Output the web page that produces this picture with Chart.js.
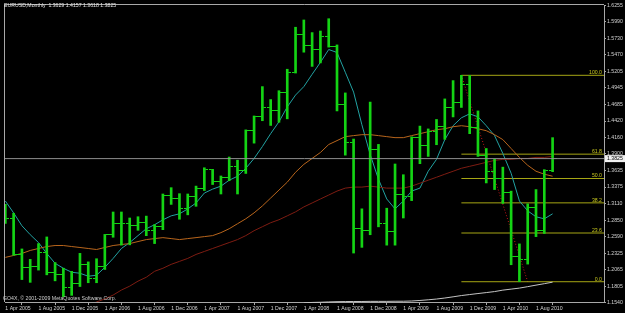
<!DOCTYPE html>
<html>
<head>
<meta charset="utf-8">
<title>EURUSD,Monthly</title>
<script src="https://cdn.jsdelivr.net/npm/chart.js@4.4.1/dist/chart.umd.min.js"></script>
<style>
  html, body { margin: 0; padding: 0; background: #000; }
  #wrap { position: relative; width: 625px; height: 313px; }
</style>
</head>
<body>
<div id="wrap"><canvas id="eurusdChart"></canvas></div>
<script>
const symbol = 'EURUSD,Monthly';
const copyright = 'GO4X, \u00a9 2001-2009 MetaQuotes Software Corp.';

// monthly bars Apr 2005 .. Oct 2010
const months = ('Apr05 May05 Jun05 Jul05 Aug05 Sep05 Oct05 Nov05 Dec05 ' +
  'Jan06 Feb06 Mar06 Apr06 May06 Jun06 Jul06 Aug06 Sep06 Oct06 Nov06 Dec06 ' +
  'Jan07 Feb07 Mar07 Apr07 May07 Jun07 Jul07 Aug07 Sep07 Oct07 Nov07 Dec07 ' +
  'Jan08 Feb08 Mar08 Apr08 May08 Jun08 Jul08 Aug08 Sep08 Oct08 Nov08 Dec08 ' +
  'Jan09 Feb09 Mar09 Apr09 May09 Jun09 Jul09 Aug09 Sep09 Oct09 Nov09 Dec09 ' +
  'Jan10 Feb10 Mar10 Apr10 May10 Jun10 Jul10 Aug10 Sep10 Oct10').split(' ');

const open = [1.2960, 1.2870, 1.2300, 1.2100, 1.2120, 1.2340, 1.2025, 1.1990, 1.1790,
  1.1840, 1.2155, 1.1925, 1.2115, 1.2620, 1.2800, 1.2790, 1.2760, 1.2815, 1.2680, 1.2755, 1.3240,
  1.3200, 1.3030, 1.3230, 1.3355, 1.3650, 1.3455, 1.3530, 1.3695, 1.3635, 1.4265, 1.4485, 1.4630,
  1.4590, 1.4865, 1.5185, 1.5785, 1.5610, 1.5550, 1.5755, 1.5605, 1.4675, 1.4085, 1.2720, 1.2690,
  1.3970, 1.2800, 1.2670, 1.3250, 1.3230, 1.4155, 1.4030, 1.4255, 1.4335, 1.4640, 1.4710, 1.5000,
  1.4320, 1.3870, 1.3625, 1.3510, 1.3290, 1.2270, 1.2230, 1.3050, 1.2680, 1.3629];
const high = [1.3100, 1.2960, 1.2395, 1.2230, 1.2480, 1.2585, 1.2180, 1.2090, 1.2040,
  1.2325, 1.2190, 1.2240, 1.2625, 1.2980, 1.2980, 1.2885, 1.2905, 1.2915, 1.2780, 1.3265, 1.3365,
  1.3270, 1.3265, 1.3390, 1.3680, 1.3655, 1.3550, 1.3850, 1.3800, 1.4280, 1.4500, 1.4965, 1.4760,
  1.4900, 1.5240, 1.5905, 1.6020, 1.5820, 1.5845, 1.6040, 1.5625, 1.4865, 1.4135, 1.3030, 1.4720,
  1.4050, 1.3040, 1.3740, 1.3570, 1.4170, 1.4340, 1.4295, 1.4445, 1.4770, 1.5060, 1.5144, 1.5140,
  1.4580, 1.3985, 1.3815, 1.3690, 1.3310, 1.2475, 1.3110, 1.3335, 1.3650, 1.4157];
const low = [1.2800, 1.2295, 1.1910, 1.1866, 1.2060, 1.1985, 1.1890, 1.1640, 1.1660,
  1.1800, 1.1860, 1.1860, 1.2070, 1.2580, 1.2455, 1.2460, 1.2690, 1.2605, 1.2480, 1.2700, 1.3100,
  1.2865, 1.2935, 1.3070, 1.3320, 1.3415, 1.3265, 1.3475, 1.3265, 1.3590, 1.4070, 1.4425, 1.4350,
  1.4400, 1.4455, 1.5180, 1.5510, 1.5285, 1.5340, 1.5590, 1.4580, 1.3880, 1.2330, 1.2420, 1.2620,
  1.2745, 1.2455, 1.2455, 1.2885, 1.3160, 1.3745, 1.3860, 1.4045, 1.4130, 1.4485, 1.4635, 1.4220,
  1.3860, 1.3440, 1.3335, 1.3115, 1.2145, 1.1876, 1.2155, 1.2590, 1.2640, 1.3618];
const close = [1.2870, 1.2300, 1.2100, 1.2120, 1.2340, 1.2025, 1.1990, 1.1790, 1.1840,
  1.2155, 1.1925, 1.2115, 1.2620, 1.2800, 1.2790, 1.2760, 1.2815, 1.2680, 1.2755, 1.3240, 1.3200,
  1.3030, 1.3230, 1.3355, 1.3650, 1.3455, 1.3530, 1.3695, 1.3635, 1.4265, 1.4485, 1.4630, 1.4590,
  1.4865, 1.5185, 1.5785, 1.5610, 1.5550, 1.5755, 1.5605, 1.4675, 1.4085, 1.2720, 1.2690, 1.3970,
  1.2800, 1.2670, 1.3250, 1.3230, 1.4155, 1.4030, 1.4255, 1.4335, 1.4640, 1.4710, 1.5000, 1.4320,
  1.3870, 1.3625, 1.3510, 1.3290, 1.2270, 1.2230, 1.3050, 1.2680, 1.3629, 1.3825];

// moving averages
const maFast = [1.3154, 1.2966, 1.2762, 1.2621, 1.2496, 1.2324, 1.2167, 1.2089, 1.2026, 1.2010,
  1.1963, 1.1979, 1.2104, 1.2245, 1.2402, 1.2496, 1.2606, 1.2715, 1.2778, 1.2856,
  1.2919, 1.2951, 1.3029, 1.3123, 1.3280, 1.3342, 1.3389, 1.3483, 1.3546, 1.3671,
  1.3828, 1.4016, 1.4220, 1.4408, 1.4643, 1.4831, 1.4965, 1.5160, 1.5349, 1.5552,
  1.5505, 1.5192, 1.4878, 1.4361, 1.3891, 1.3499, 1.3186, 1.3029, 1.3154, 1.3311,
  1.3358, 1.3625, 1.3813, 1.4126, 1.4346, 1.4471, 1.4534, 1.4487, 1.4346, 1.4189,
  1.3907, 1.3593, 1.3154, 1.2998, 1.2904, 1.2872, 1.2951];
const maMid = [1.2261, 1.2292, 1.2324, 1.2371, 1.2402, 1.2433, 1.2449, 1.2449, 1.2433, 1.2418,
  1.2402, 1.2386, 1.2418, 1.2449, 1.2465, 1.2480, 1.2512, 1.2543, 1.2559, 1.2574,
  1.2559, 1.2543, 1.2559, 1.2574, 1.2590, 1.2606, 1.2653, 1.2715, 1.2794, 1.2872,
  1.2966, 1.3076, 1.3201, 1.3327, 1.3452, 1.3609, 1.3734, 1.3828, 1.3922, 1.4048,
  1.4110, 1.4173, 1.4189, 1.4204, 1.4204, 1.4189, 1.4173, 1.4157, 1.4157, 1.4189,
  1.4220, 1.4251, 1.4283, 1.4298, 1.4330, 1.4346, 1.4330, 1.4298, 1.4267, 1.4204,
  1.4126, 1.3985, 1.3844, 1.3719, 1.3625, 1.3578, 1.3546];
const maSlow = [null, null, null, null, null, null, null, null, null, null,
  1.1493, 1.1556, 1.1603, 1.1665, 1.1744, 1.1806, 1.1885, 1.1947, 1.2041, 1.2089,
  1.2151, 1.2198, 1.2245, 1.2308, 1.2355, 1.2402, 1.2449, 1.2496, 1.2543, 1.2606,
  1.2684, 1.2747, 1.2810, 1.2857, 1.2919, 1.2982, 1.3060, 1.3123, 1.3186, 1.3248,
  1.3311, 1.3358, 1.3374, 1.3374, 1.3389, 1.3374, 1.3358, 1.3358, 1.3358, 1.3389,
  1.3436, 1.3483, 1.3530, 1.3578, 1.3625, 1.3672, 1.3703, 1.3734, 1.3766, 1.3797,
  1.3813, 1.3813, 1.3828, 1.3828, 1.3844, 1.3844, 1.3860];
const maLong = [null, null, null, null, null, null, null, null, null, null,
  null, null, null, null, null, null, null, null, null, null,
  null, null, null, null, null, null, null, null, null, null,
  null, null, null, null, null, null, 1.1540, 1.1548, 1.1551, 1.1556,
  1.1560, 1.1562, 1.1563, 1.1563, 1.1565, 1.1565, 1.1565, 1.1567, 1.1567, 1.1571,
  1.1579, 1.1590, 1.1602, 1.1618, 1.1637, 1.1657, 1.1673, 1.1689, 1.1704, 1.1720,
  1.1743, 1.1759, 1.1775, 1.1798, 1.1822, 1.1845, 1.1869];

const tickLabels = ['1 Apr 2005', '1 Aug 2005', '1 Dec 2005', '1 Apr 2006', '1 Aug 2006',
  '1 Dec 2006', '1 Apr 2007', '1 Aug 2007', '1 Dec 2007', '1 Apr 2008', '1 Aug 2008',
  '1 Dec 2008', '1 Apr 2009', '1 Aug 2009', '1 Dec 2009', '1 Apr 2010', '1 Aug 2010'];
const priceTicks = [1.1540, 1.1805, 1.2065, 1.2325, 1.2590, 1.2850, 1.3110, 1.3375, 1.3635,
  1.3900, 1.4160, 1.4420, 1.4685, 1.4945, 1.5205, 1.5470, 1.5730, 1.5990, 1.6255];

// fibonacci retracement drawn from the Nov 2009 high to the 2010 low
const fibFrom = 55, fibTo = 63;
const fibHigh = 1.5144, fibLow = 1.1876;
const fibLevels = [0, 23.6, 38.2, 50, 61.8, 100];

const xMin = -0.04, xMax = 72.2;
const barColor = '#14d414';
const fontFamily = '"Liberation Sans", Arial, sans-serif';
const fontSize = 5.2;
const last = close.length - 1;

// little open / close ticks for the OHLC bars
function tickImage(side) {
    const c = document.createElement('canvas');
    c.width = 8;
    c.height = 1;
    const g = c.getContext('2d');
    g.fillStyle = barColor;
    g.fillRect(side === 'left' ? 0 : 5, 0, 3, 1);
    return c;
}

const lineSet = (label, values, color, clip) => ({
    type: 'line',
    label: label,
    data: values.map((v, i) => ({ x: i, y: v })).filter(p => p.y !== null),
    borderColor: color,
    borderWidth: 1,
    pointRadius: 0,
    tension: 0,
    clip: clip,
});

const fibColor = '#a6a614';
const fibSets = fibLevels.map((lvl) => ({
    type: 'line',
    label: 'fib ' + lvl,
    data: [{ x: fibFrom, y: fibLow + (fibHigh - fibLow) * lvl / 100 }, { x: xMax, y: fibLow + (fibHigh - fibLow) * lvl / 100 }],
    borderColor: fibColor,
    borderWidth: 1,
    pointRadius: 0,
    clip: 0,
}));

const frame = {
    id: 'frame',
    beforeDraw(chart) {
        const { ctx } = chart;
        ctx.save();
        ctx.fillStyle = '#000';
        ctx.fillRect(0, 0, chart.width, chart.height);
        ctx.restore();
    },
    afterDraw(chart) {
        const { ctx, chartArea } = chart;
        const y = chart.scales.y;
        ctx.save();
        ctx.strokeStyle = '#a8a8a8';
        ctx.lineWidth = 1;
        ctx.beginPath();
        ctx.moveTo(chartArea.left - 0.5, chartArea.bottom);
        ctx.lineTo(chartArea.left - 0.5, chartArea.top - 0.5);
        ctx.lineTo(chartArea.right, chartArea.top - 0.5);
        ctx.stroke();

        ctx.font = fontSize + 'px ' + fontFamily;
        ctx.textBaseline = 'middle';
        ctx.textAlign = 'left';
        ctx.fillStyle = '#e6e6e6';
        const ohlc = [open[last], high[last], low[last], close[last]].map(v => v.toFixed(4)).join(' ');
        ctx.fillText(symbol + '  ' + ohlc, 4, 5.5);
        ctx.fillStyle = '#cfcfcf';
        ctx.fillText(copyright, 3, 299);

        // fibo level captions
        ctx.fillStyle = '#c8c81e';
        ctx.textAlign = 'right';
        ctx.textBaseline = 'bottom';
        fibLevels.forEach((lvl) => {
            const py = y.getPixelForValue(fibLow + (fibHigh - fibLow) * lvl / 100);
            ctx.fillText(lvl.toFixed(1), chartArea.right - 2, py);
        });

        // current price box on the axis
        const by = y.getPixelForValue(close[last]);
        ctx.fillStyle = '#f0f0f0';
        ctx.fillRect(chartArea.right + 1, by - 3.5, 20, 7);
        ctx.fillStyle = '#000';
        ctx.textAlign = 'left';
        ctx.textBaseline = 'middle';
        ctx.fillText(close[last].toFixed(4), chartArea.right + 3, by);
        ctx.restore();
    }
};

new Chart(document.getElementById('eurusdChart'), {
    type: 'bar',
    data: {
        datasets: [
            {
                type: 'line',
                label: 'bid',
                data: [{ x: xMin, y: close[last] }, { x: xMax, y: close[last] }],
                borderColor: '#8e8e8e',
                borderWidth: 1,
                pointRadius: 0,
                clip: 0,
            },
            {
                type: 'bar',
                label: 'range',
                data: months.map((m, i) => ({ x: i, y: [low[i], high[i]] })),
                backgroundColor: barColor,
                borderWidth: 0,
                barThickness: 2,
                grouped: false,
            },
            {
                type: 'scatter',
                label: 'open',
                data: months.map((m, i) => ({ x: i, y: open[i] })),
                pointStyle: tickImage('left'),
                pointRadius: 3,
                clip: 0,
            },
            {
                type: 'scatter',
                label: 'close',
                data: months.map((m, i) => ({ x: i, y: close[i] })),
                pointStyle: tickImage('right'),
                pointRadius: 3,
                clip: 0,
            },
            lineSet('MA long', maLong, '#c4c4c4', 1),
            lineSet('MA slow', maSlow, '#7e1c12', 0),
            lineSet('MA mid', maMid, '#b8651c', 0),
            lineSet('MA fast', maFast, '#22a2a2', 0),
            ...fibSets,
            {
                type: 'line',
                label: 'fibo trend',
                data: [{ x: fibFrom, y: fibHigh }, { x: fibTo, y: fibLow }],
                borderColor: '#c81818',
                borderWidth: 1,
                borderDash: [1, 2],
                pointRadius: 0,
            },
        ]
    },
    options: {
        responsive: true,
        maintainAspectRatio: false,
        animation: false,
        layout: { padding: { left: 2, top: 2, right: 0, bottom: 0 } },
        plugins: {
            legend: { display: false },
            tooltip: { enabled: false },
        },
        scales: {
            x: {
                type: 'linear',
                min: xMin,
                max: xMax,
                offset: false,
                grid: { display: true, drawOnChartArea: false, drawTicks: true, tickLength: 3, color: '#a8a8a8' },
                border: { display: true, color: '#a8a8a8' },
                afterBuildTicks: (scale) => {
                    scale.ticks = tickLabels.map((t, k) => ({ value: k * 4 }));
                },
                afterFit: (scale) => { scale.height = 11; },
                ticks: {
                    autoSkip: false,
                    maxRotation: 0,
                    align: 'start',
                    padding: 0,
                    color: '#d2d2d2',
                    font: { family: fontFamily, size: fontSize },
                    callback: (v, i) => tickLabels[i],
                },
            },
            y: {
                type: 'linear',
                position: 'right',
                min: 1.1555,
                max: 1.6257,
                grid: { display: true, drawOnChartArea: false, drawTicks: true, tickLength: 2, color: '#a8a8a8' },
                border: { display: true, color: '#a8a8a8' },
                afterBuildTicks: (scale) => {
                    scale.ticks = priceTicks.map(v => ({ value: v }));
                },
                afterFit: (scale) => { scale.width = 21; },
                ticks: {
                    autoSkip: false,
                    padding: 1,
                    color: '#d2d2d2',
                    font: { family: fontFamily, size: fontSize },
                    callback: (v) => Number(v).toFixed(4),
                },
            },
        },
    },
    plugins: [frame],
});
</script>
</body>
</html>
